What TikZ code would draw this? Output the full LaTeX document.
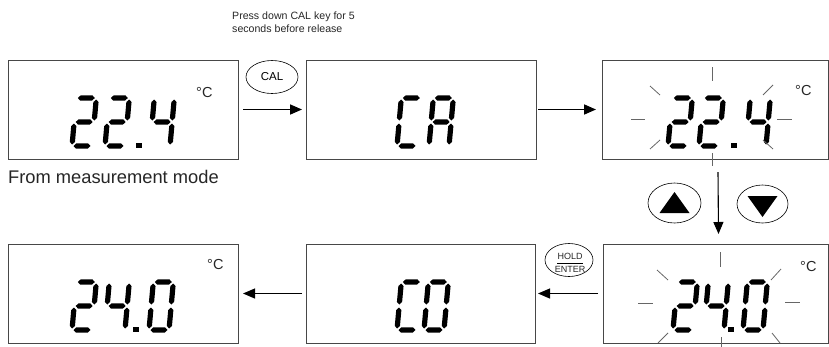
\documentclass[tikz,border=0pt]{standalone}
\usepackage{fontspec}
\setmainfont{Liberation Sans}
\usetikzlibrary{arrows.meta,shapes.geometric}
\def\segHW{2.6}
\newcommand\hseg[3]{\fill (#1,#2) -- ++(\segHW,-\segHW) -- ++({#3-2*\segHW},0) -- ++(\segHW,\segHW) -- ++(-\segHW,\segHW) -- ++({-#3+2*\segHW},0) -- cycle;}
\newcommand\vseg[3]{\fill (#1,#2) -- ++(\segHW,\segHW) -- ++(0,{#3-2*\segHW}) -- ++(-\segHW,\segHW) -- ++(-\segHW,-\segHW) -- ++(0,{-#3+2*\segHW}) -- cycle;}
\newcommand\segA{\hseg{1.5}{-48}{17}}
\newcommand\segG{\hseg{1.5}{-24}{17}}
\newcommand\segD{\hseg{1.5}{0}{17}}
\newcommand\segF{\vseg{0}{-46.5}{21}}
\newcommand\segB{\vseg{20}{-46.5}{21}}
\newcommand\segE{\vseg{0}{-22.5}{21}}
\newcommand\segC{\vseg{20}{-22.5}{21}}
\newcommand\dTwo{\segA\segB\segG\segE\segD}
\newcommand\dFour{\segF\segG\segB\segC}
\newcommand\dZero{\segA\segB\segC\segD\segE\segF}
\newcommand\dC{\segA\segF\segE\segD}
\newcommand\dA{\segA\segB\segC\segE\segF\segG}
\newcommand\lcdigit[3]{\begin{scope}[shift={(#1,#2)},xslant=0.09]#3\end{scope}}
\newcommand\lcddot[2]{\fill (#1-2.6,#2-1.8) rectangle (#1+2.6,#2+3.4);}
\begin{document}
\begin{tikzpicture}[x=1pt,y=-1pt,
  lcd/.style={draw=black!72, line width=0.9pt, minimum height=99pt, inner sep=0pt, outer sep=0pt},
  arr/.style={-{Triangle[length=12pt,width=10pt]}, line width=1.7pt},
  arrthin/.style={-{Triangle[length=12pt,width=10pt]}, line width=1.1pt},
  ray/.style={draw=black!60, line width=0.8pt},
  key/.style={ellipse, draw, line width=0.6pt, inner sep=0pt},
  lbl/.style={inner sep=0pt, text=black!85}]
\useasboundingbox (0,0) rectangle (829,346);
% boxes
\node[lcd, minimum width=230pt] (b1) at (123,109.5) {};
\node[lcd, minimum width=230pt] (b2) at (421,109.5) {};
\node[lcd, minimum width=226pt] (b3) at (715,109.5) {};
\node[lcd, minimum width=230pt] (b4) at (123,293.5) {};
\node[lcd, minimum width=229pt] (b5) at (420.5,293.5) {};
\node[lcd, minimum width=225pt] (b6) at (715.5,293.5) {};
% texts
\node[lbl, anchor=base west, font=\fontsize{10.6}{12}\selectfont] (press1) at (232,19.5) {Press down CAL key for 5};
\node[lbl, anchor=base west, font=\fontsize{10.6}{12}\selectfont] (press2) at (232,32.5) {seconds before release};
\node[lbl, anchor=base west, font=\fontsize{18.3}{21}\selectfont] (from) at (8,183) {From measurement mode};
\node[lbl, anchor=base west, font=\fontsize{14.5}{17}\selectfont] (c1) at (196,97) {°C};
\node[lbl, anchor=base west, font=\fontsize{14.5}{17}\selectfont] (c3) at (795,95) {°C};
\node[lbl, anchor=base west, font=\fontsize{14.5}{17}\selectfont] (c4) at (207,269) {°C};
\node[lbl, anchor=base west, font=\fontsize{14.5}{17}\selectfont] (c6) at (800,271) {°C};
% keys
\node[key, minimum width=52pt, minimum height=33pt, font=\fontsize{11.5}{13}\selectfont] (cal) at (272,77) {CAL};
\node[key, minimum width=48pt, minimum height=33pt] (hold) at (569,260) {};
\node[lbl, font=\fontsize{9}{10}\selectfont] (holdt) at (570,256) {HOLD};
\node[lbl, font=\fontsize{9}{10}\selectfont] (entert) at (570,269) {ENTER};
\draw[line width=0.6pt] ([shift={(-12pt,-3pt)}]hold.center) -- ([shift={(14pt,-3pt)}]hold.center);
\node[key, minimum width=53pt, minimum height=40pt] (up) at (674.5,203) {};
\node[key, minimum width=51pt, minimum height=38pt] (down) at (762.5,204) {};
\fill ([yshift=11pt]up.center) -- ([shift={(15pt,-10pt)}]up.center) -- ([shift={(-15pt,-10pt)}]up.center) -- cycle;
\fill ([yshift=-13pt]down.center) -- ([shift={(15pt,8pt)}]down.center) -- ([shift={(-15pt,8pt)}]down.center) -- cycle;
% arrows
\draw[arr] ([xshift=5pt]b1.east) -- ([xshift=-4pt]b2.west);
\draw[arr] ([xshift=2pt]b2.east) -- ([xshift=-6pt]b3.west);
\draw[arrthin] ([xshift=3pt,yshift=-13pt]b3.south) -- ([xshift=3pt,yshift=10pt]b6.north);
\draw[arrthin] ([xshift=-5pt]b6.west) -- ([xshift=3pt]b5.east);
\draw[arrthin] ([xshift=-4pt]b5.west) -- ([xshift=5pt]b4.east);
% digits box1
\lcdigit{72}{146}{\dTwo}
\lcdigit{105}{146}{\dTwo}
\lcddot{139}{145}
\lcdigit{150}{146}{\dFour}
% box2
\lcdigit{397}{146}{\dC}
\lcdigit{429}{146}{\dA}
% box3
\lcdigit{668}{146}{\dTwo}
\lcdigit{699}{146}{\dTwo}
\lcddot{734}{145}
\lcdigit{746}{146}{\dFour}
% box4
\lcdigit{72}{330}{\dTwo}
\lcdigit{105}{330}{\dFour}
\lcddot{136}{329}
\lcdigit{149}{330}{\dZero}
% box5
\lcdigit{397}{330}{\dC}
\lcdigit{424}{330}{\dZero}
% box6
\lcdigit{673}{330}{\dTwo}
\lcdigit{704}{330}{\dFour}
\lcddot{731}{329}
\lcdigit{743}{330}{\dZero}
% rays box3
\draw[ray] (712,67) -- (712,81);
\draw[ray] (650,86) -- (660,95);
\draw[ray] (631,119) -- (645,119);
\draw[ray] (650,149) -- (660,140);
\draw[ray] (712,153) -- (712,166);
\draw[ray] (763,140) -- (773,149);
\draw[ray] (777,119) -- (792,119);
\draw[ray] (763,95) -- (773,85);
% rays box6
\draw[ray] (720,252) -- (720,267);
\draw[ray] (657,270) -- (668,280);
\draw[ray] (638,303) -- (653,303);
\draw[ray] (658,343) -- (668,333);
\draw[ray] (721,337) -- (721,348);
\draw[ray] (772,333) -- (780,343);
\draw[ray] (785,302) -- (800,302);
\draw[ray] (771,280) -- (781,269);
\end{tikzpicture}
\end{document}
